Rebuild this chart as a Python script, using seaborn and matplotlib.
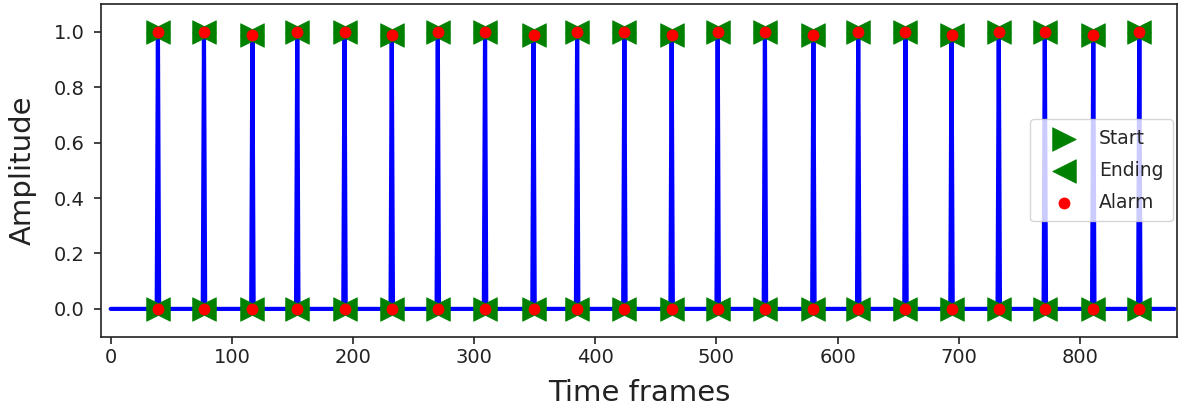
import matplotlib
matplotlib.use("Agg")
import matplotlib.pyplot as plt
import seaborn as sns
import pandas as pd

# ---- data ----
peak_frames = [39, 77, 117, 154, 193, 232, 270, 309, 349, 385, 424,
               463, 501, 540, 580, 617, 656, 694, 733, 771, 811, 849]
peak_values = [1.0, 1.0, 0.99, 1.0, 1.0, 0.99, 1.0, 1.0, 0.99, 1.0, 1.0,
               0.99, 1.0, 1.0, 0.99, 1.0, 1.0, 0.99, 1.0, 1.0, 0.99, 1.0]
first_frame = 0
last_frame = 878
legend_labels = ["Start", "Ending", "Alarm"]

# signal: baseline with one-frame pulses
sig_x, sig_y = [first_frame], [0.0]
for p, v in zip(peak_frames, peak_values):
    sig_x += [p - 1, p, p + 1]
    sig_y += [0.0, v, 0.0]
sig_x.append(last_frame)
sig_y.append(0.0)
signal = pd.DataFrame({"frame": sig_x, "amp": sig_y})

# event markers, at the baseline and at the top of each pulse
ev_x = peak_frames + peak_frames
ev_y = [0.0] * len(peak_frames) + peak_values
events = pd.DataFrame({"frame": ev_x, "amp": ev_y})

sns.set_style("ticks")
plt.rcParams["font.family"] = ["DejaVu Sans"]

fig = plt.figure(figsize=(11.81, 4.12), dpi=100)
ax = fig.add_axes([0.0855, 0.183, 0.911, 0.807])

sns.lineplot(data=signal, x="frame", y="amp", ax=ax, color="b",
             linewidth=3, estimator=None, sort=False, legend=False)
sns.scatterplot(data=events, x="frame", y="amp", ax=ax, marker=">", s=17**2,
                color="g", edgecolor="g", linewidth=0.5, label=legend_labels[0], zorder=3)
sns.scatterplot(data=events, x="frame", y="amp", ax=ax, marker="<", s=17**2,
                color="g", edgecolor="g", linewidth=0.5, label=legend_labels[1], zorder=3)
sns.scatterplot(data=events, x="frame", y="amp", ax=ax, marker="o", s=8**2,
                color="r", edgecolor="r", linewidth=0.5, label=legend_labels[2], zorder=4)

ax.set_xlim(-8, 880)
ax.set_ylim(-0.1, 1.1)
ax.set_xticks([0, 100, 200, 300, 400, 500, 600, 700, 800])
ax.set_yticks([0.0, 0.2, 0.4, 0.6, 0.8, 1.0])
ax.set_yticklabels(["0.0", "0.2", "0.4", "0.6", "0.8", "1.0"])
ax.tick_params(labelsize=14, length=5, width=1.2, colors="#222222")
ax.tick_params(axis="y", pad=7)
for s in ax.spines.values():
    s.set_linewidth(1.2)
    s.set_color("#222222")
    s.set_visible(True)

ax.set_xlabel("Time frames", fontsize=21, color="#222222", labelpad=8)
ax.set_ylabel("Amplitude", fontsize=21, color="#222222", labelpad=12)

ax.legend(loc="center right", fontsize=13.5, frameon=True, borderpad=0.5,
          handletextpad=0.6, labelspacing=0.7, handlelength=2.6,
          borderaxespad=0.2)

fig.savefig("out.png", dpi=100)
